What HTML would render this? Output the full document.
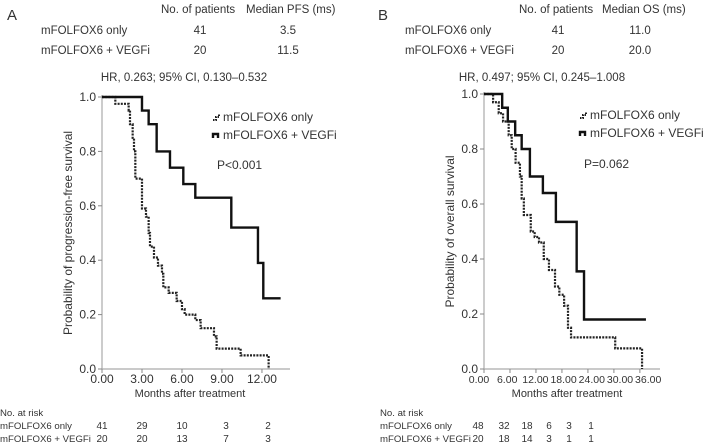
<!DOCTYPE html>
<html><head><meta charset="utf-8"><style>
body{margin:0;background:#fff;}
svg{display:block;font-family:"Liberation Sans",sans-serif;}
</style></head><body>
<svg id="s" width="713" height="444" font-size="11" fill="#333">
<g font-size="11.5">
<text x="7" y="20" font-size="15">A</text>
<text x="161" y="13">No. of patients</text><text x="246" y="13">Median PFS (ms)</text>
<text x="41" y="34">mFOLFOX6 only</text><text x="200" y="34" text-anchor="middle">41</text><text x="288" y="34" text-anchor="middle">3.5</text>
<text x="41" y="54">mFOLFOX6 + VEGFi</text><text x="200" y="54" text-anchor="middle">20</text><text x="288" y="54" text-anchor="middle">11.5</text>
<text x="184" y="81" text-anchor="middle">HR, 0.263; 95% CI, 0.130–0.532</text>
</g>
<g font-size="11.5">
<text x="378" y="20" font-size="15">B</text>
<text x="519" y="13">No. of patients</text><text x="602" y="13">Median OS (ms)</text>
<text x="405" y="34">mFOLFOX6 only</text><text x="558" y="34" text-anchor="middle">41</text><text x="640" y="34" text-anchor="middle">11.0</text>
<text x="405" y="54">mFOLFOX6 + VEGFi</text><text x="558" y="54" text-anchor="middle">20</text><text x="640" y="54" text-anchor="middle">20.0</text>
<text x="542" y="81" text-anchor="middle">HR, 0.497; 95% CI, 0.245–1.008</text>
</g>
<g font-size="9.6">
<text x="0" y="416">No. at risk</text>
<text x="0" y="429">mFOLFOX6 only</text><text x="0" y="442">mFOLFOX6 + VEGFi</text>
</g>
<g font-size="9.6">
<text x="380" y="416">No. at risk</text>
<text x="380" y="429">mFOLFOX6 only</text><text x="380" y="442">mFOLFOX6 + VEGFi</text>
</g>
</svg>
<script>
// Panel A data (months, survival)
const aDotT=[0,1.0,2.0,2.1,2.3,2.4,2.5,3.0,3.3,3.5,3.6,3.9,4.2,4.5,4.6,5.0,5.6,6.0,6.2,7.0,7.4,8.4,8.6,10.4,12.5];
const aDotS=[1,0.975,0.95,0.9,0.85,0.8,0.7,0.59,0.56,0.5,0.45,0.41,0.38,0.35,0.3,0.28,0.25,0.22,0.2,0.18,0.15,0.12,0.075,0.05,0];
const aSolT=[0,3.0,3.5,4.1,5.1,6.1,7.0,9.7,11.7,12.1,13.4];
const aSolS=[1,0.95,0.9,0.8,0.74,0.68,0.63,0.52,0.39,0.26,0.26];
const aTicks=[0,3,6,9,12];
const aRiskOnly=[41,29,10,3,2];
const aRiskVegf=[20,20,13,7,3];
// Panel B data
const bDotT=[0,2.1,3.4,4.4,5.7,6.4,7.3,8.3,8.7,9.2,10.8,11.7,12.7,13.8,15.0,16.4,17.4,18.5,19.4,20.1,21.2,30.3,36.5];
const bDotS=[1,0.97,0.93,0.9,0.85,0.8,0.75,0.7,0.62,0.56,0.5,0.48,0.46,0.4,0.36,0.3,0.27,0.23,0.15,0.115,0.115,0.075,0];
const bSolT=[0,4.2,5.5,7.2,8.7,10.6,13.6,16.6,21.4,23.1,37.4];
const bSolS=[1,0.95,0.9,0.85,0.8,0.7,0.64,0.535,0.355,0.18,0.18];
const bTicks=[0,6,12,18,24,30,36];
const bRiskOnly=[48,32,18,6,3,1];
const bRiskVegf=[20,18,14,3,1,1];
const yTicks=[0,0.2,0.4,0.6,0.8,1.0];
const NS='http://www.w3.org/2000/svg';
const svg=document.getElementById('s');
function mk(tag,attrs,parent){const e=document.createElementNS(NS,tag);for(const k in attrs)e.setAttribute(k,attrs[k]);(parent||svg).appendChild(e);return e;}
function panel(p){
  const g=mk('g',{});
  
  
  const X=t=>p.x0+t*p.sx, Y=s=>p.y0-s*(p.y0-p.y1);
  const LX=t=>p.l0+t*p.lsx;
  mk('line',{x1:p.x0,y1:p.y1-2,x2:p.x0,y2:p.y0,stroke:'#aaa','stroke-width':1.2},g);
  mk('line',{x1:p.x0,y1:p.y0,x2:p.xend,y2:p.y0,stroke:'#aaa','stroke-width':1.2},g);
  yTicks.forEach(v=>{mk('line',{x1:p.x0-4,x2:p.x0,y1:Y(v),y2:Y(v),stroke:'#888'},g);
    const t=mk('text',{x:p.x0-6,y:Y(v)+4,'text-anchor':'end','font-size':12},g);t.textContent=v.toFixed(1);});
  p.ticks.forEach(v=>{mk('line',{x1:X(v),x2:X(v),y1:p.y0,y2:p.y0+4,stroke:'#888'},g);
    const t=mk('text',{x:LX(v),y:p.y0+14,'text-anchor':'middle','font-size':p.tf},g);t.textContent=v.toFixed(2);});
  const xl=mk('text',{x:p.xlx,y:p.y0+28,'text-anchor':'middle'},g);xl.textContent='Months after treatment';
  const yl=mk('text',{x:0,y:0,'text-anchor':'middle','font-size':12,transform:`translate(${p.x0-30},${(p.y0+p.y1)/2}) rotate(-90)`},g);yl.textContent=p.ylab;
  function step(T,S){let d=`M${X(T[0])},${Y(S[0])}`;for(let i=1;i<T.length;i++){d+=` H${X(T[i])} V${Y(S[i])}`;}return d;}
  const d1=mk('path',{d:step(p.dT,p.dS),fill:'none',stroke:'#222','stroke-width':2.2,'stroke-dasharray':'2 1.2'},g);
  
  
  const d2=mk('path',{d:step(p.sT,p.sS),fill:'none',stroke:'#111','stroke-width':2.4},g);
  
  
  const lg=mk('g',{},g);
  
  
  mk('path',{d:`M${p.lx},${p.ly1+2} h3 v-3 h3 v-3`,fill:'none',stroke:'#222','stroke-width':2,'stroke-dasharray':'1.5 1'},lg);
  mk('path',{d:`M${p.lx},${p.ly2+2} v-4 h5 v4`,fill:'none',stroke:'#111','stroke-width':2.4},lg);
  let t=mk('text',{x:p.lx+10,y:p.ly1+3,'font-size':12},lg);t.textContent='mFOLFOX6 only';
  t=mk('text',{x:p.lx+10,y:p.ly2+3,'font-size':12},lg);t.textContent='mFOLFOX6 + VEGFi';
  t=mk('text',{x:p.lx+4,y:p.py,'font-size':12},g);t.textContent=p.pval;
  
  
  p.r1.forEach((v,i)=>{const e=mk('text',{x:p.cols[i],y:429,'text-anchor':'middle','font-size':10});e.textContent=v;});
  p.r2.forEach((v,i)=>{const e=mk('text',{x:p.cols[i],y:442,'text-anchor':'middle','font-size':10});e.textContent=v;});
}
panel({id:'panel-a',x0:102,sx:13.33,l0:102,lsx:13.33,y0:369,y1:97,xend:290,xlx:190,ticks:aTicks,tf:12,ylab:'Probability of progression-free survival',
  dT:aDotT,dS:aDotS,sT:aSolT,sS:aSolS,lx:213,ly1:118,ly2:136,pval:'P<0.001',py:169,r1:aRiskOnly,r2:aRiskVegf,cols:[102,142,182,226,268]});
panel({id:'panel-b',x0:484,sx:4.33,l0:479,lsx:4.7,y0:369,y1:94,xend:660,xlx:567,ticks:bTicks,tf:10.5,ylab:'Probability of overall survival',
  dT:bDotT,dS:bDotS,sT:bSolT,sS:bSolS,lx:580,ly1:116,ly2:134,pval:'P=0.062',py:168,r1:bRiskOnly,r2:bRiskVegf,cols:[478,504,527,549,569,591]});
</script>
</body></html>
